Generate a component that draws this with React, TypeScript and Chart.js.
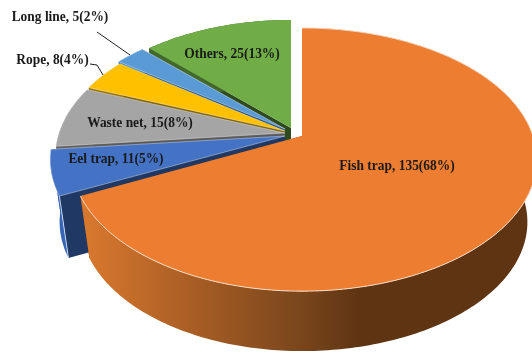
import React, { useEffect, useRef } from "react";
import { Chart, registerables } from "chart.js";

Chart.register(...registerables);

// Gear types and catch counts, clockwise from twelve o'clock.
const categories = ["Fish trap", "Eel trap", "Waste net", "Rope", "Long line", "Others"];
const counts = [135, 11, 15, 8, 5, 25];
const percents = [68, 5, 8, 4, 2, 13];

const topColors = ["#ED7D31", "#4472C4", "#A5A5A5", "#FFC000", "#5B9BD5", "#70AD47"];
const wallColors = ["#7a441a", "#3565b3", "#63625f", "#997300", "#2e75b6", "#43682b"];
const cutColors = ["#7a441a", "#1f3864", "#5a5a5a", "#7f6000", "#1f4e79", "#2f4a1e"];

// Screen position of each slice's tip; the pieces are pulled apart slightly.
const tips = [
  [302, 136],
  [285, 136],
  [285, 133],
  [285, 131],
  [285, 129],
  [291, 128],
];

// Per-slice reach on the left-hand side, so the rims stay where the tips have moved from.
const leftReach = [0.982, 1, 0.978, 0.971, 0.98, 0.975];

// Label anchors (text centre) and the slices that carry a leader line.
const labelSpots = [
  [397, 166],
  [116, 159],
  [140, 123],
  [52.5, 60],
  [60, 17],
  [232, 54],
];
const leaders: Record<number, number[][]> = {
  3: [[90, 64], [97, 65], [103, 75]],
  4: [[97, 32], [130, 55]],
};

// Perspective settings for the tilted disc.
const RX = 231;
const RY = 127.4;
const TILT = 0.179;
const FLOOR_SCALE_X = 0.96;
const FLOOR_SCALE_Y = 0.98;
const FLOOR_DROP = 63;

const W = 532;
const H = 353;

function topPoint(i: number, theta: number): number[] {
  const tip = tips[i];
  const u = Math.sin(theta);
  const v = -Math.cos(theta);
  const d = 1 - TILT * v;
  const reach = u < 0 ? leftReach[i] : 1;
  return [tip[0] + (RX * reach * u) / d, tip[1] + (RY * v) / d];
}

function floorPoint(i: number, theta: number): number[] {
  const tip = tips[i];
  const u = Math.sin(theta);
  const v = -Math.cos(theta);
  const d = 1 - TILT * v;
  const reach = u < 0 ? leftReach[i] : 1;
  return [
    tip[0] + (RX * reach * FLOOR_SCALE_X * u) / d,
    tip[1] + FLOOR_DROP + (RY * FLOOR_SCALE_Y * v) / d,
  ];
}

function sweep(start: number, end: number): number[] {
  const out: number[] = [];
  const n = Math.max(2, Math.ceil((end - start) / (Math.PI / 180)));
  for (let i = 0; i <= n; i++) out.push(start + ((end - start) * i) / n);
  return out;
}

function trace(ctx: CanvasRenderingContext2D, pts: number[][], close = true) {
  ctx.beginPath();
  pts.forEach((p, i) => (i ? ctx.lineTo(p[0], p[1]) : ctx.moveTo(p[0], p[1])));
  if (close) ctx.closePath();
}

// Paints the pie arcs as solid wedges, using the angles the controller computed.
const solidPie = {
  id: "solidPie",
  beforeDatasetDraw(chart: Chart) {
    const ctx = chart.ctx;
    const arcs = chart.getDatasetMeta(0).data as any[];
    const order = [5, 4, 3, 2, 1, 0];
    ctx.save();
    for (const i of order) {
      const arc = arcs[i];
      const start = arc.startAngle + Math.PI / 2;
      const end = arc.endAngle + Math.PI / 2;
      const tip = tips[i];
      const floorTip = [tip[0], tip[1] + FLOOR_DROP];
      const angles = sweep(start, end);
      const rim = angles.map((a) => topPoint(i, a));
      const floor = angles.map((a) => floorPoint(i, a));

      // Cut faces
      ctx.fillStyle = cutColors[i];
      trace(ctx, [tip, rim[0], floor[0], floorTip]);
      ctx.fill();
      trace(ctx, [tip, rim[rim.length - 1], floor[floor.length - 1], floorTip]);
      ctx.fill();

      // Outer wall
      let wall: CanvasGradient | string = wallColors[i];
      if (i === 0) {
        const g = ctx.createLinearGradient(85, 0, 360, 0);
        g.addColorStop(0, "#d8782e");
        g.addColorStop(0.42, "#a55c24");
        g.addColorStop(0.78, "#7a461c");
        g.addColorStop(1, "#5f3413");
        wall = g;
      }
      ctx.fillStyle = wall;
      trace(ctx, [...rim, ...floor.slice().reverse()]);
      ctx.fill();

      // Top face, with a thin highlight along its edges
      ctx.fillStyle = arc.options.backgroundColor;
      trace(ctx, [tip, ...rim]);
      ctx.fill();
      ctx.lineWidth = 1;
      if (i === 0) {
        ctx.strokeStyle = "#f8dcc6";
        trace(ctx, rim, false);
        ctx.stroke();
      } else if (i !== 5) {
        ctx.strokeStyle = "rgba(255,255,255,0.4)";
        trace(ctx, [tip, ...rim]);
        ctx.stroke();
      }
      if (i === 1) {
        ctx.strokeStyle = "rgba(220,232,250,0.85)";
        trace(ctx, [rim[0], floor[0]], false);
        ctx.stroke();
      }
    }
    ctx.restore();
    return false;
  },
  afterDatasetsDraw(chart: Chart) {
    const ctx = chart.ctx;
    ctx.save();
    ctx.font = "bold 14px 'Liberation Serif'";
    ctx.fillStyle = "#1a1a1a";
    ctx.textAlign = "center";
    ctx.textBaseline = "middle";
    categories.forEach((name, i) => {
      const [x, y] = labelSpots[i];
      const text = `${name}, ${counts[i]}(${percents[i]}%)`;
      ctx.fillText(text, x, y, ctx.measureText(text).width * 0.96);
    });
    ctx.strokeStyle = "#222222";
    ctx.lineWidth = 1;
    Object.values(leaders).forEach((line) => {
      trace(ctx, line, false);
      ctx.stroke();
    });
    ctx.restore();
  },
};

export default function App() {
  const ref = useRef<HTMLCanvasElement>(null);

  useEffect(() => {
    document.body.style.margin = "0";
    const chart = new Chart(ref.current as HTMLCanvasElement, {
      type: "pie",
      data: {
        labels: categories,
        datasets: [{ data: counts, backgroundColor: topColors }],
      },
      options: {
        responsive: false,
        animation: false,
        plugins: { legend: { display: false }, tooltip: { enabled: false } },
      },
      plugins: [solidPie as any],
    });
    return () => chart.destroy();
  }, []);

  return <canvas ref={ref} width={W} height={H} style={{ display: "block" }} />;
}
